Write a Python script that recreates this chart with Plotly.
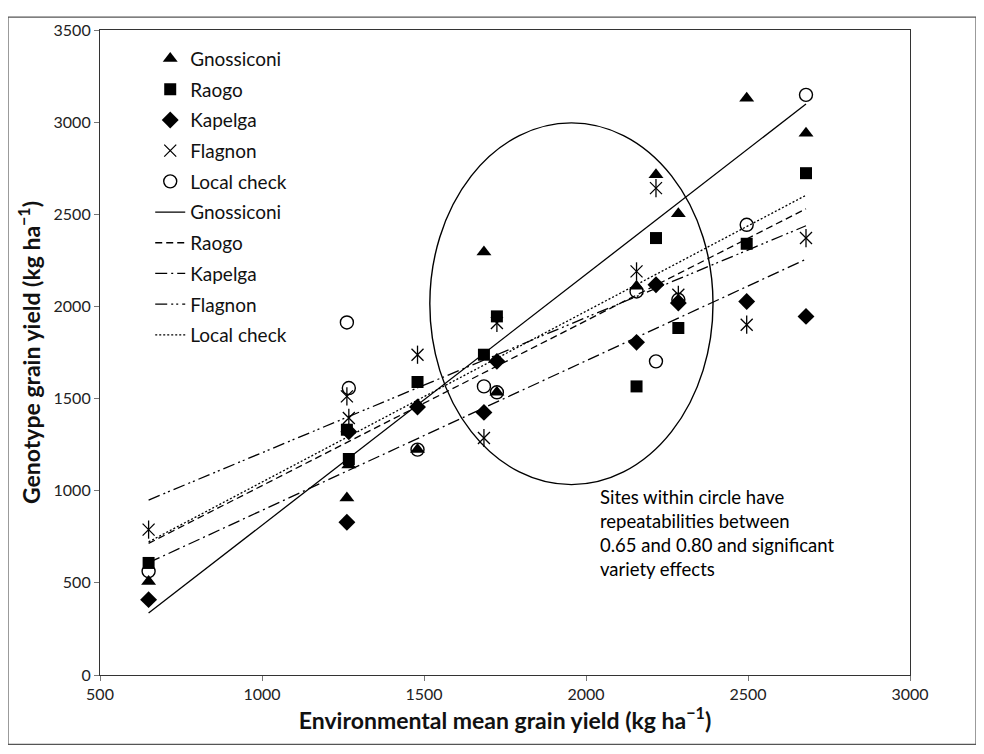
import numpy as np
import plotly.graph_objects as go

# ---- data ----
env_mean = [650, 1262, 1268, 1480, 1685, 1725, 2156, 2216, 2285, 2496, 2679]
gnossiconi = [508, 961, 1140, 1223, 2295, 1534, 2110, 2714, 2503, 3130, 2940]
raogo = [608, 1331, 1172, 1590, 1738, 1946, 1566, 2371, 1883, 2340, 2723]
kapelga = [409, 829, 1320, 1454, 1425, 1702, 1805, 2118, 2018, 2027, 1946]
flagnon = [789, 1512, 1395, 1738, 1286, 1910, 2190, 2642, 2063, 1901, 2371]
local_check = [563, 1913, 1557, 1223, 1566, 1534, 2081, 1702, 2036, 2443, 3148]

series_names = ["Gnossiconi", "Raogo", "Kapelga", "Flagnon", "Local check"]
series_values = [gnossiconi, raogo, kapelga, flagnon, local_check]

x_ticks = [500, 1000, 1500, 2000, 2500, 3000]
y_ticks = [0, 500, 1000, 1500, 2000, 2500, 3000, 3500]

# ellipse bounds (data units) and note
ellipse_x = [1518, 2392]
ellipse_y = [1033, 2996]
note_text = ("Sites within circle have<br>repeatabilities between<br>"
             "0.65 and 0.80 and significant<br>variety effects")
note_pos = (2037, 1035)

# ---- styles ----
FONT = "Lato, 'Open Sans', sans-serif"
marker_styles = [
    dict(symbol="triangle-up", size=13, color="black"),
    dict(symbol="square", size=12, color="black"),
    dict(symbol="diamond", size=13, color="black"),
    dict(symbol="x-thin-open", size=12, color="black", line=dict(color="black", width=1.3)),
    dict(symbol="circle-open", size=13, color="black", line=dict(color="black", width=1.4)),
]
line_dashes = ["solid", "7px,4px", "12px,4px,2px,4px", "12px,4px,2px,3px,2px,4px", "2px,2px"]

fig = go.Figure()

for i, (name, vals) in enumerate(zip(series_names, series_values)):
    fig.add_trace(go.Scatter(
        x=env_mean, y=vals, mode="markers", name=name,
        marker=marker_styles[i], legendgroup="m%d" % i,
    ))
    if name == "Flagnon":
        fig.add_trace(go.Scatter(
            x=env_mean, y=vals, mode="markers", showlegend=False,
            marker=dict(symbol="line-ns-open", size=13, color="black",
                        line=dict(color="black", width=1.3)),
            legendgroup="m%d" % i, hoverinfo="skip",
        ))

xs = np.array(env_mean, dtype=float)
x_line = np.array([xs.min(), xs.max()])
for i, (name, vals) in enumerate(zip(series_names, series_values)):
    slope, intercept = np.polyfit(xs, np.array(vals, dtype=float), 1)
    fig.add_trace(go.Scatter(
        x=x_line, y=intercept + slope * x_line, mode="lines", name=name,
        line=dict(color="black", width=1.3, dash=line_dashes[i]),
        legendgroup="l%d" % i,
    ))

fig.add_shape(type="circle", xref="x", yref="y",
              x0=ellipse_x[0], x1=ellipse_x[1], y0=ellipse_y[0], y1=ellipse_y[1],
              line=dict(color="black", width=1.4))

fig.add_annotation(x=note_pos[0], y=note_pos[1], xref="x", yref="y",
                   text=note_text, showarrow=False, align="left",
                   xanchor="left", yanchor="top",
                   font=dict(family=FONT, size=18.5, color="black"))

# outer frame
fig.add_shape(type="rect", xref="paper", yref="paper",
              x0=-0.1136, x1=1.0815, y0=-0.1077, y1=1.0201,
              line=dict(color="#555555", width=1.2))

axis_common = dict(
    showline=True, mirror=True, linecolor="#333333", linewidth=1.2,
    ticks="outside", ticklen=5, tickcolor="#777777", showgrid=False, zeroline=False,
    tickfont=dict(family=FONT, size=16, color="#222222"),
)

fig.update_xaxes(range=[500, 3000], tickvals=x_ticks,
                 title=dict(text="<b>Environmental mean grain yield (kg ha<sup>−1</sup>)</b>",
                            font=dict(family=FONT, size=23, color="#111111"), standoff=5),
                 **axis_common)
fig.update_yaxes(range=[0, 3500], tickvals=y_ticks,
                 title=dict(text="<b>Genotype grain yield (kg ha<sup>−1</sup>)</b>",
                            font=dict(family=FONT, size=23, color="#111111"), standoff=6),
                 **axis_common)

fig.update_layout(
    width=984, height=754,
    margin=dict(l=92, r=82, t=22, b=86.5),
    plot_bgcolor="white", paper_bgcolor="white",
    font=dict(family=FONT, color="#111111"),
    legend=dict(x=0.062, y=0.985, xanchor="left", yanchor="top",
                font=dict(family=FONT, size=19, color="#111111"),
                bgcolor="rgba(0,0,0,0)", tracegroupgap=3, itemwidth=30),
    showlegend=True,
)

fig.write_html("out.html")
